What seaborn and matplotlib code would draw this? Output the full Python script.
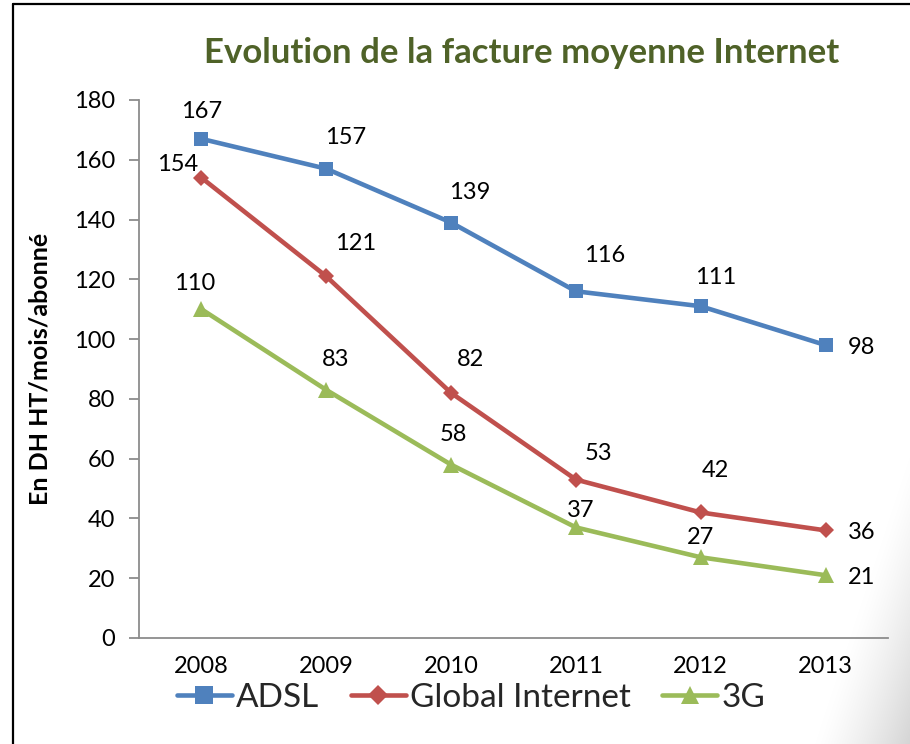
import numpy as np
import pandas as pd
import matplotlib
matplotlib.use("Agg")
import matplotlib.pyplot as plt
import seaborn as sns
from matplotlib.lines import Line2D

# ---- data ----
years = ["2008", "2009", "2010", "2011", "2012", "2013"]
adsl = [167, 157, 139, 116, 111, 98]
global_internet = [154, 121, 82, 53, 42, 36]
g3 = [110, 83, 58, 37, 27, 21]
series_names = ["ADSL", "Global Internet", "3G"]
title = "Evolution de la facture moyenne Internet"
ylabel = "En DH HT/mois/abonné"
yticks = [0, 20, 40, 60, 80, 100, 120, 140, 160, 180]

# ---- style ----
sns.set_theme(style="white")
plt.rcParams["font.family"] = ["Lato", "DejaVu Sans"]

colors = {"ADSL": "#4F81BD", "Global Internet": "#C0504D", "3G": "#9BBB59"}
markers = {"ADSL": "s", "Global Internet": "D", "3G": "^"}
msizes = {"ADSL": 10.5, "Global Internet": 8, "3G": 11.5}

df = pd.DataFrame({
    "year": years * 3,
    "value": adsl + global_internet + g3,
    "series": [series_names[0]] * 6 + [series_names[1]] * 6 + [series_names[2]] * 6,
})

fig = plt.figure(figsize=(9.10, 7.44), dpi=100)
fig.patch.set_facecolor("white")

# subtle gray shadow in the bottom-right corner
bg = fig.add_axes([0, 0, 1, 1], zorder=-10)
bg.set_axis_off()
yy, xx = np.mgrid[0:744, 0:910].astype(float)
s = xx + 0.33 * (yy - 530) - 885
shade = np.clip(s / 110, 0, 1) ** 1.3 * 0.20
img = np.ones((744, 910, 3)) * (1 - shade[..., None])
bg.imshow(img, extent=[0, 1, 0, 1], aspect="auto", origin="upper")
bg.set_xlim(0, 1)
bg.set_ylim(0, 1)

ax = fig.add_axes([139 / 910, 1 - 638 / 744, (888 - 139) / 910, (638 - 100) / 744])
ax.patch.set_alpha(0)

for name in series_names:
    sub = df[df["series"] == name]
    sns.lineplot(data=sub, x="year", y="value", ax=ax, color=colors[name],
                 linewidth=3.3, marker=markers[name], markersize=msizes[name],
                 markeredgewidth=0, label=name, sort=False)

ax.set_xlim(-0.5, 5.5)
ax.set_ylim(0, 180)
ax.set_yticks(yticks)
ax.set_xticks(range(len(years)))
ax.set_xticklabels(years)
ax.set_xticks(np.arange(-0.5, 6, 1), minor=True)
ax.tick_params(axis="x", which="major", length=0, labelsize=17, pad=13, colors="black")
ax.tick_params(axis="x", which="minor", length=9, width=1.3, color="#8C8C8C", direction="out")
ax.tick_params(axis="y", which="major", length=7, width=1.3, color="#8C8C8C",
               direction="out", labelsize=17, pad=10, left=True)
for lbl in ax.get_yticklabels() + ax.get_xticklabels():
    lbl.set_color("black")

for side in ["top", "right"]:
    ax.spines[side].set_visible(False)
for side in ["left", "bottom"]:
    ax.spines[side].set_color("#8C8C8C")
    ax.spines[side].set_linewidth(1.3)

ax.set_xlabel("")
ax.set_ylabel(ylabel, fontsize=18, fontweight="bold", color="black")
ax.yaxis.set_label_coords(-0.117, 0.5)

# data labels
label_offsets = {
    "ADSL": [(0, 27), (19, 31), (19, 30), (29, 36), (15, 29), (36, -2)],
    "Global Internet": [(-24, 13), (29, 33), (19, 33), (23, 26), (15, 42), (36, -2)],
    "3G": [(-7, 26), (9, 30), (2, 30), (5, 17), (0, 20), (36, -2)],
}
series_vals = {"ADSL": adsl, "Global Internet": global_internet, "3G": g3}
for name in series_names:
    for i, v in enumerate(series_vals[name]):
        dx, dy = label_offsets[name][i]
        ax.annotate(str(v), (i, v), xytext=(dx, dy), textcoords="offset pixels",
                    ha="center", va="center", fontsize=17, color="black")

ax.get_legend().remove()
handles = [Line2D([0], [0], color=colors[n], lw=3.3, marker=markers[n],
                  markersize=msizes[n] + 2, markeredgewidth=0) for n in series_names]
fig.legend(handles, series_names, loc="center", bbox_to_anchor=(471 / 910, 1 - 698 / 744),
           ncol=3, frameon=False, fontsize=24, handlelength=1.65, handletextpad=0.12,
           columnspacing=0.95)

fig.text(522 / 910, 1 - 53 / 744, title, ha="center", va="center",
         fontsize=25, fontweight="bold", color="#4F6228")

# outer frame (left and top edges)
fig.add_artist(Line2D([13 / 910, 13 / 910], [0, 1 - 4 / 744], color="black", lw=1.6,
                      transform=fig.transFigure))
fig.add_artist(Line2D([13 / 910, 1], [1 - 4 / 744, 1 - 4 / 744], color="black", lw=1.6,
                      transform=fig.transFigure))

fig.savefig("out.png", dpi=100, facecolor="white")
